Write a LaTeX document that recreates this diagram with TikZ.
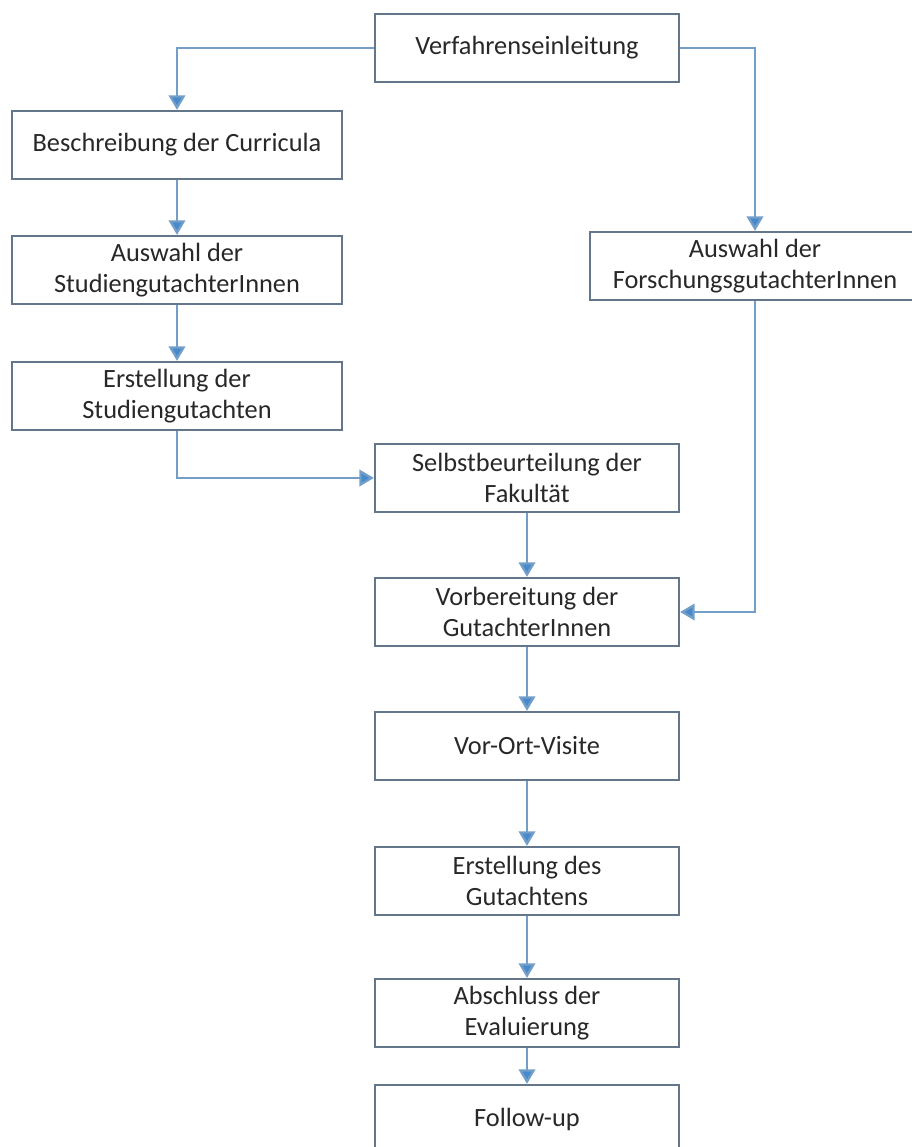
\documentclass[tikz,border=0pt]{standalone}
\usepackage{fontspec}
\setmainfont{Carlito}
\usetikzlibrary{arrows.meta}

\definecolor{boxgray}{RGB}{100,118,138}
\definecolor{linkblue}{RGB}{115,158,200}
\definecolor{tipblue}{RGB}{70,138,205}
\definecolor{textgray}{RGB}{40,40,40}

\begin{document}
\begin{tikzpicture}[x=0.02cm, y=-0.02cm,
        box/.style={draw=boxgray, line width=1.3pt, fill=white, align=center,
            minimum height=1.36cm, inner sep=0pt, text=textgray,
            font=\fontsize{15}{18}\selectfont},
        sidebox/.style={box, minimum width=6.6cm},
        midbox/.style={box, minimum width=6.08cm},
        link/.style={draw=linkblue, line width=1.3pt,
            -{Triangle[width=0.33cm, length=0.29cm, fill=tipblue]}}]
        \useasboundingbox (0,0) rectangle (912,1147);

        \node[midbox] (einl) at (527,48) {Verfahrenseinleitung};
        \node[sidebox] (curr) at (177,145) {Beschreibung der Curricula};
        \node[sidebox] (studwahl) at (177,270) {Auswahl der\\StudiengutachterInnen};
        \node[sidebox] (studerst) at (177,396) {Erstellung der\\Studiengutachten};
        \node[sidebox] (forsch) at (755,266) {Auswahl der\\ForschungsgutachterInnen};
        \node[midbox] (selbst) at (527,478) {Selbstbeurteilung der\\Fakultät};
        \node[midbox] (vorb) at (527,612) {Vorbereitung der\\GutachterInnen};
        \node[midbox] (visite) at (527,746) {Vor-Ort-Visite};
        \node[midbox] (gutacht) at (527,881) {Erstellung des\\Gutachtens};
        \node[midbox] (abschl) at (527,1013) {Abschluss der\\Evaluierung};
        \node[midbox] (follow) at (527,1119) {Follow-up};

        \draw[link] (einl.west) -| (curr.north);
        \draw[link] (einl.east) -| (forsch.north);
        \draw[link] (studerst.south) |- (selbst.west);
        \draw[link] (forsch.south) |- (vorb.east);
        \foreach \a/\b in {curr/studwahl, studwahl/studerst, selbst/vorb,
                vorb/visite, visite/gutacht, gutacht/abschl, abschl/follow}
            \draw[link] (\a) -- (\b);

    \end{tikzpicture}
\end{document}
